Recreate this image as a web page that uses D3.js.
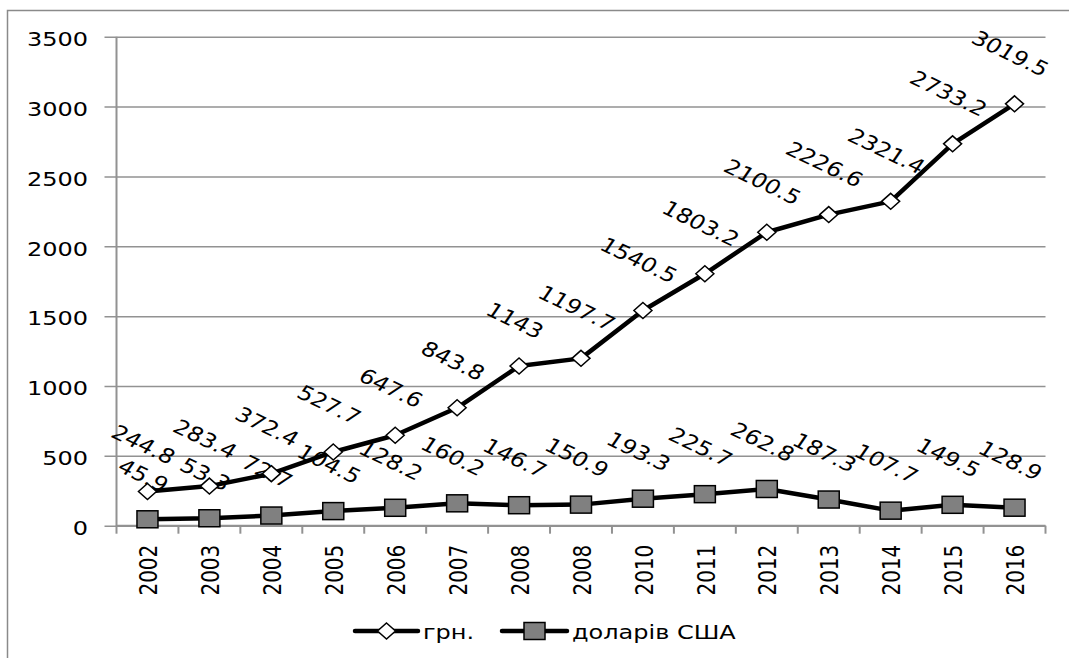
<!DOCTYPE html>
<html>
<head>
<meta charset="utf-8">
<script src="https://cdn.jsdelivr.net/npm/d3@7"></script>
<style>
  body { margin: 0; background: #fff; }
  text { font-family: "DejaVu Sans", Verdana, sans-serif; font-size: 20px; fill: #000; }
</style>
</head>
<body>
<div id="chart"></div>
<script>
"use strict";
// categories (note: "2008" appears twice in the source chart)
const years = ["2002", "2003", "2004", "2005", "2006", "2007", "2008", "2008",
    "2010", "2011", "2012", "2013", "2014", "2015", "2016"];
const uahValues = [244.8, 283.4, 372.4, 527.7, 647.6, 843.8, 1143, 1197.7,
    1540.5, 1803.2, 2100.5, 2226.6, 2321.4, 2733.2, 3019.5];
const usdValues = [45.9, 53.3, 72.7, 104.5, 128.2, 160.2, 146.7, 150.9,
    193.3, 225.7, 262.8, 187.3, 107.7, 149.5, 128.9];
const yTicks = [0, 500, 1000, 1500, 2000, 2500, 3000, 3500];
const seriesNames = ["грн.", "доларів США"];

const width = 1069, height = 658;
const plot = { left: 116.5, right: 1045.5, top: 36.7, bottom: 525.7 };
const sx = 1.2; // text looks stretched horizontally in the original
const gridColor = "#929292";

const svg = d3.select("#chart")
    .append("svg")
    .attr("width", width)
    .attr("height", height);

// outer chart border
svg.append("rect")
    .attr("x", 7.5)
    .attr("y", 10.5)
    .attr("width", width)
    .attr("height", height)
    .attr("fill", "none")
    .attr("stroke", "#8a8a8a")
    .attr("stroke-width", 1.5);

const xScale = d3.scaleBand()
    .domain(d3.range(years.length))
    .range([plot.left, plot.right]);
const yScale = d3.scaleLinear()
    .domain([0, 3500])
    .range([plot.bottom, plot.top]);
const xMid = i => xScale(i) + xScale.bandwidth() / 2;

// gridlines + y ticks (ticks poke out to the left)
const yAxis = svg.append("g")
    .attr("transform", `translate(${plot.left},0)`)
    .call(d3.axisLeft(yScale).tickValues(yTicks)
        .tickSize(-(plot.right - plot.left)).tickSizeOuter(0).tickFormat(""));
yAxis.select(".domain").remove();
yAxis.selectAll("line")
    .attr("x1", -12)
    .attr("stroke", gridColor)
    .attr("stroke-width", 1.5);

svg.selectAll(".ylab")
    .data(yTicks)
    .enter()
    .append("text")
    .attr("class", "ylab")
    .attr("text-anchor", "end")
    .attr("dominant-baseline", "central")
    .attr("transform", d => `translate(88,${yScale(d) + 2}) scale(${sx},1)`)
    .text(d => d);

// y axis line
svg.append("line")
    .attr("x1", plot.left).attr("x2", plot.left)
    .attr("y1", plot.top).attr("y2", plot.bottom + 1)
    .attr("stroke", gridColor)
    .attr("stroke-width", 2);

// x axis with ticks at the category boundaries
svg.append("line")
    .attr("x1", plot.left).attr("x2", plot.right)
    .attr("y1", plot.bottom).attr("y2", plot.bottom)
    .attr("stroke", gridColor)
    .attr("stroke-width", 2);
svg.selectAll(".xtick")
    .data(d3.range(years.length + 1))
    .enter()
    .append("line")
    .attr("class", "xtick")
    .attr("x1", i => i < years.length ? xScale(i) : plot.right)
    .attr("x2", i => i < years.length ? xScale(i) : plot.right)
    .attr("y1", plot.bottom)
    .attr("y2", plot.bottom + 8)
    .attr("stroke", gridColor)
    .attr("stroke-width", 2);

svg.selectAll(".xlab")
    .data(years)
    .enter()
    .append("text")
    .attr("class", "xlab")
    .attr("text-anchor", "end")
    .attr("dominant-baseline", "central")
    .attr("transform", (d, i) => `translate(${xMid(i) + 1},${plot.bottom + 19}) scale(${sx},1) rotate(-90)`)
    .text(d => d);

// data labels (drawn first, the markers sit on top of them)
function drawLabels(values, cls) {
    const labels = svg.selectAll("." + cls)
        .data(values)
        .enter()
        .append("text")
        .attr("class", cls)
        .attr("text-anchor", "middle")
        .attr("dominant-baseline", "central")
        .text(d => d);
    labels.each(function (d, i) {
        const len = this.getComputedTextLength();
        const cx = xMid(i) - 4;
        const cy = yScale(d) - (33 + len / 4);
        d3.select(this).attr("transform", `translate(${cx},${cy}) scale(${sx},1) rotate(30)`);
    });
}
drawLabels(uahValues, "lab-uah");
drawLabels(usdValues, "lab-usd");

const line = d3.line()
    .x((d, i) => xMid(i))
    .y(d => yScale(d));

function diamond(g, x, y) {
    g.append("path")
        .attr("d", `M${x},${y - 8}L${x + 9},${y}L${x},${y + 8}L${x - 9},${y}Z`)
        .attr("fill", "#fff")
        .attr("stroke", "#000")
        .attr("stroke-width", 1.5);
}
function square(g, x, y) {
    g.append("rect")
        .attr("x", x - 10.5)
        .attr("y", y - 8.5)
        .attr("width", 21)
        .attr("height", 17)
        .attr("fill", "#808080")
        .attr("stroke", "#000")
        .attr("stroke-width", 1.5);
}

// USD series
svg.append("path")
    .datum(usdValues)
    .attr("d", line)
    .attr("fill", "none")
    .attr("stroke", "#000")
    .attr("stroke-width", 4.5)
    .attr("stroke-linejoin", "round");
const usdMarks = svg.append("g");
usdValues.forEach((d, i) => square(usdMarks, xMid(i), yScale(d)));

// UAH series
svg.append("path")
    .datum(uahValues)
    .attr("d", line)
    .attr("fill", "none")
    .attr("stroke", "#000")
    .attr("stroke-width", 4.5)
    .attr("stroke-linejoin", "round");
const uahMarks = svg.append("g");
uahValues.forEach((d, i) => diamond(uahMarks, xMid(i), yScale(d)));

// legend
const legendY = 631;
const legendItems = [
    { name: seriesNames[0], x0: 355, x1: 418, marker: diamond },
    { name: seriesNames[1], x0: 502, x1: 567, marker: square }
];
legendItems.forEach(item => {
    const g = svg.append("g");
    g.append("line")
        .attr("x1", item.x0).attr("x2", item.x1)
        .attr("y1", legendY).attr("y2", legendY)
        .attr("stroke", "#000")
        .attr("stroke-width", 4.5)
        .attr("stroke-linecap", "round");
    item.marker(g, (item.x0 + item.x1) / 2, legendY);
    g.append("text")
        .attr("dominant-baseline", "central")
        .attr("transform", `translate(${item.x1 + 5},${legendY + 1}) scale(${sx},1)`)
        .text(item.name);
});
</script>
</body>
</html>
